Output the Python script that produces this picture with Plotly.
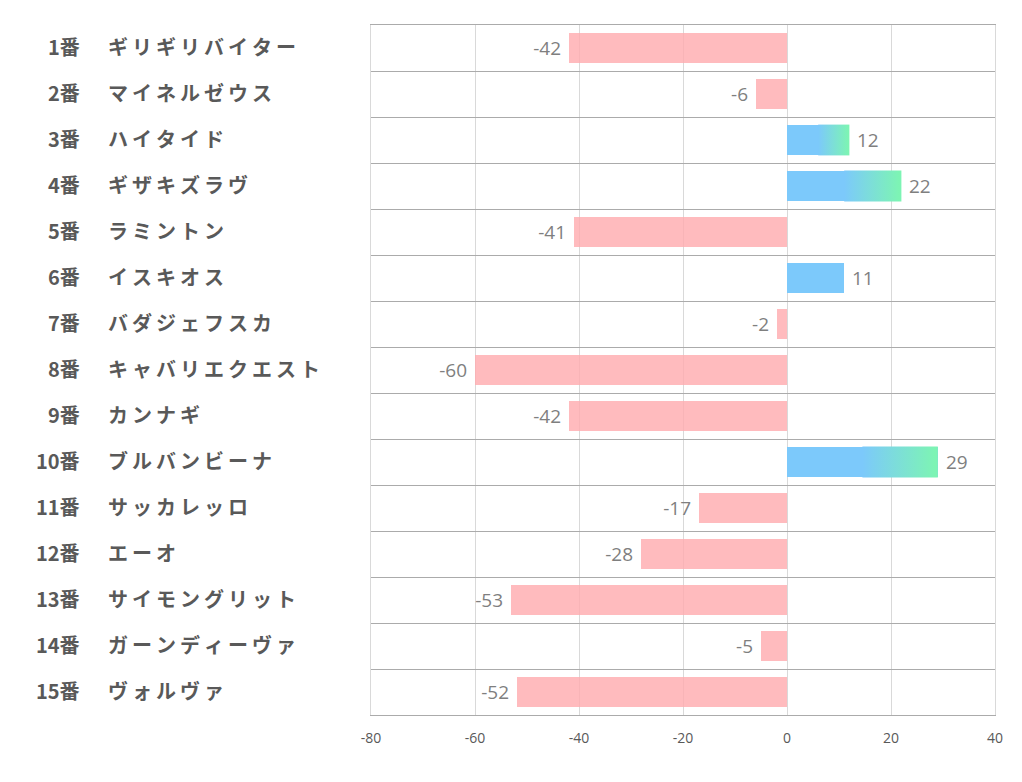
import plotly.graph_objects as go

numbers = ["1番", "2番", "3番", "4番", "5番", "6番", "7番", "8番", "9番", "10番",
           "11番", "12番", "13番", "14番", "15番"]
names = ["ギリギリバイター", "マイネルゼウス", "ハイタイド", "ギザキズラヴ", "ラミントン",
         "イスキオス", "バダジェフスカ", "キャバリエクエスト", "カンナギ", "ブルバンビーナ",
         "サッカレッロ", "エーオ", "サイモングリット", "ガーンディーヴァ", "ヴォルヴァ"]
values = [-42, -6, 12, 22, -41, 11, -2, -60, -42, 29, -17, -28, -53, -5, -52]
x_ticks = [-80, -60, -40, -20, 0, 20, 40]

PINK = "rgba(255,172,176,0.82)"
BLUE = "#7CC9FB"
GREEN = "#7DF4B4"
BAR_W = 0.67
GRAD_MIN = 12

ypos = list(range(len(values)))
fig = go.Figure()
fig.add_trace(go.Bar(
    x=values, y=ypos, orientation="h", width=BAR_W,
    marker=dict(color=[PINK if v < 0 else BLUE for v in values], line=dict(width=0)),
    text=[(f"{v} " if v < 0 else f" {v}") for v in values], textposition="outside",
    textfont=dict(family="Open Sans, Noto Sans CJK JP", size=19, color="#7f7f7f"),
    cliponaxis=False, showlegend=False, hoverinfo="skip",
))

for i, v in enumerate(values):
    if v >= GRAD_MIN:
        x0, x1 = v * 0.5, v * 0.98
        fig.add_trace(go.Scatter(
            x=[x0, v, v, x0, x0],
            y=[i - BAR_W / 2, i - BAR_W / 2, i + BAR_W / 2, i + BAR_W / 2, i - BAR_W / 2],
            mode="lines", line=dict(width=0), fill="toself",
            fillgradient=dict(type="horizontal", start=x0, stop=x1,
                              colorscale=[[0, BLUE], [1, GREEN]]),
            showlegend=False, hoverinfo="skip",
        ))

W, H = 1022, 782
OFF = 8  # default page body margin
L, R, T, B = 371 - OFF, 27 + OFF, 25 - OFF, 67 + OFF
pw = W - L - R
SP = "\u2009"
for i in ypos:
    fig.add_annotation(xref="paper", yref="y", x=(82 - OFF - L) / pw, y=i, text=numbers[i],
                       showarrow=False, xanchor="right", yshift=2,
                       font=dict(family="Noto Sans CJK JP", size=20, color="#595959", weight="bold"))
    fig.add_annotation(xref="paper", yref="y", x=(106 - OFF - L) / pw, y=i, text=SP.join(names[i]),
                       showarrow=False, xanchor="left", yshift=2,
                       font=dict(family="Noto Sans CJK JP", size=20, color="#595959", weight="bold"))

fig.update_layout(
    width=W, height=H, margin=dict(l=L, r=R, t=T, b=B),
    plot_bgcolor="white", paper_bgcolor="white",
    xaxis=dict(range=[-80, 40], tickvals=x_ticks, ticktext=[str(t) for t in x_ticks],
               showgrid=True, gridcolor="#d9d9d9", gridwidth=1, zeroline=False,
               showline=True, mirror=True, linecolor="#ababab", linewidth=1,
               ticks="", ticklabelstandoff=10,
               tickfont=dict(family="Open Sans, Noto Sans", size=14, color="#595959")),
    yaxis=dict(range=[len(values) - 0.5, -0.5], tickvals=[i - 0.5 for i in range(len(values) + 1)],
               showticklabels=False, showgrid=True, gridcolor="#ababab", gridwidth=1,
               zeroline=False, showline=True, mirror=True, linecolor="#d9d9d9", ticks=""),
    bargap=0,
)
fig.write_html("out.html")
